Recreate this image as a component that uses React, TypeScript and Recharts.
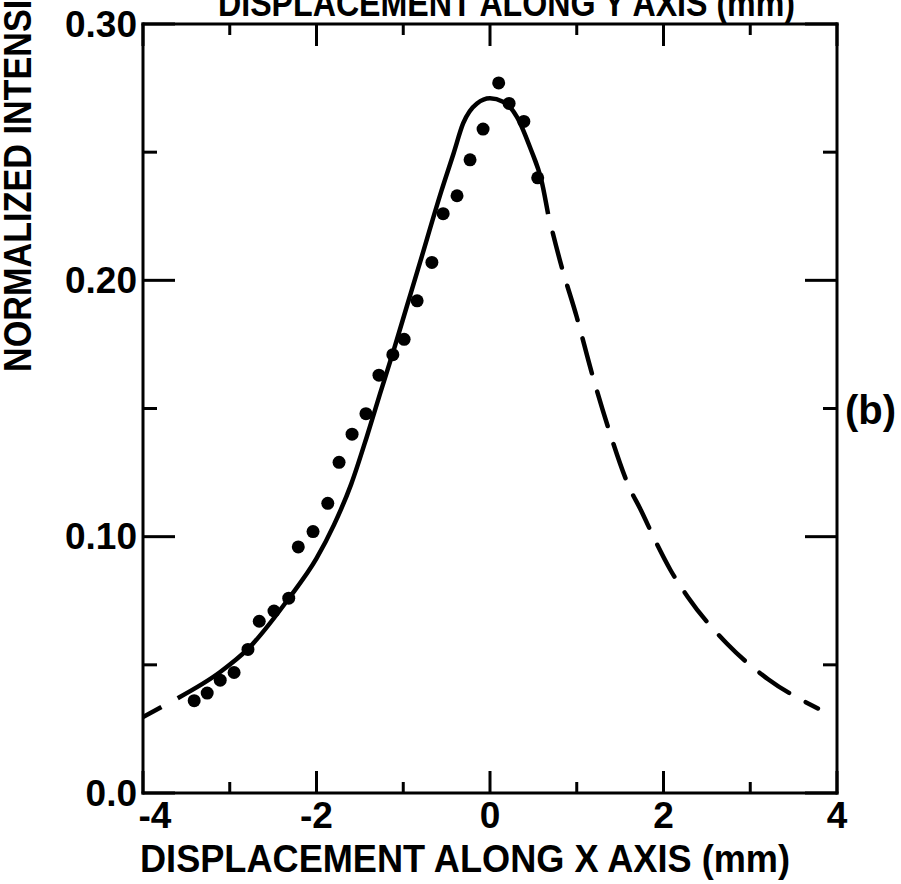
import React from 'react';
import { ComposedChart, XAxis, YAxis, Line, Scatter } from 'recharts';

const FONT = '"Liberation Sans", Arial, sans-serif';

// axis ticks
const xTicks = [-4, -3, -2, -1, 0, 1, 2, 3, 4];
const xTickLabels = ['-4', '', '-2', '', '0', '', '2', '', '4'];
const yTicks = [0, 0.05, 0.1, 0.15, 0.2, 0.25, 0.3];
const yTickLabels = ['0.0', '', '0.10', '', '0.20', '', '0.30'];

// measured points (dots)
const measuredX = [
  -3.41, -3.26, -3.11, -2.95, -2.79, -2.66, -2.49, -2.32, -2.21, -2.04, -1.87, -1.74, -1.59, -1.43,
  -1.28, -1.12, -0.99, -0.84, -0.67, -0.54, -0.38, -0.23, -0.08, 0.1, 0.22, 0.39, 0.55,
];
const measuredY = [
  0.036, 0.039, 0.044, 0.047, 0.056, 0.067, 0.071, 0.076, 0.096, 0.102, 0.113, 0.129, 0.14, 0.148,
  0.163, 0.171, 0.177, 0.192, 0.207, 0.226, 0.233, 0.247, 0.259, 0.277, 0.269, 0.262, 0.24,
];

// fitted curve, solid part
const solidX = [
  -3.6, -3.11, -2.79, -2.32, -2.0, -1.8, -1.6, -1.42, -1.27, -1.11, -0.96, -0.81, -0.56, -0.42,
  -0.31, -0.15, 0, 0.15, 0.31, 0.46, 0.6, 0.67,
];
const solidY = [
  0.037, 0.0472, 0.0562, 0.0759, 0.0915, 0.1045, 0.1205, 0.139, 0.1555, 0.1728, 0.1897, 0.2066,
  0.2349, 0.2495, 0.2612, 0.269, 0.271, 0.2697, 0.2638, 0.252, 0.238, 0.2258,
];

// fitted curve, dashed parts
const dashLeftX = [-4, -3.6];
const dashLeftY = [0.0296, 0.037];
const dashRightX = [0.67, 0.82, 1.0, 1.17, 1.36, 1.61, 1.73, 1.92, 2.08, 2.28, 2.73, 3.21, 3.78];
const dashRightY = [
  0.2258, 0.206, 0.1857, 0.1643, 0.1428, 0.1189, 0.111, 0.0974, 0.087, 0.0765, 0.0583, 0.0443, 0.033,
];

const zip = (xs: number[], ys: number[]) => xs.map((x, i) => ({ x, y: ys[i] }));
const measured = zip(measuredX, measuredY);
const solid = zip(solidX, solidY);
const dashLeft = zip(dashLeftX, dashLeftY);
const dashRight = zip(dashRightX, dashRightY);

const tickText = { fontFamily: FONT, fontWeight: 700, fontSize: 37, fill: '#000' };

function BottomTick(props: any) {
  const { x, y, payload } = props;
  const i = xTicks.indexOf(payload.value);
  const label = xTickLabels[i];
  const major = payload.value % 2 === 0;
  return (
    <g>
      <line x1={x} y1={y} x2={x} y2={y - (major ? 22 : 11)} stroke="#000" strokeWidth={3} />
      {label !== '' && (
        <text x={x + (i === 0 ? 12 : 0)} y={y + 22} textAnchor="middle" dominantBaseline="central" {...tickText}>
          {label}
        </text>
      )}
    </g>
  );
}

function TopTick(props: any) {
  const { x, y, payload } = props;
  const major = payload.value % 2 === 0;
  return <line x1={x} y1={y} x2={x} y2={y + (major ? 22 : 11)} stroke="#000" strokeWidth={3} />;
}

function LeftTick(props: any) {
  const { x, y, payload } = props;
  const i = yTicks.indexOf(payload.value);
  const label = yTickLabels[i];
  const major = i % 2 === 0;
  return (
    <g>
      <line x1={x} y1={y} x2={x + (major ? 32 : 14)} y2={y} stroke="#000" strokeWidth={3} />
      {label !== '' && (
        <text x={x - 6} y={y} textAnchor="end" dominantBaseline="central" {...tickText}>
          {label}
        </text>
      )}
    </g>
  );
}

function RightTick(props: any) {
  const { x, y, payload } = props;
  const i = yTicks.indexOf(payload.value);
  const major = i % 2 === 0;
  return <line x1={x} y1={y} x2={x - (major ? 32 : 14)} y2={y} stroke="#000" strokeWidth={3} />;
}

const frame = { stroke: '#000', strokeWidth: 3, strokeLinecap: 'square' as const };

export default function App() {
  return (
    <div style={{ position: 'absolute', left: 0, top: 0, width: 901, height: 884, background: '#fff' }}>
      <ComposedChart width={901} height={884} margin={{ top: 23, right: 63, bottom: 0, left: 0 }}>
        <XAxis
          dataKey="x"
          type="number"
          domain={[-4, 4]}
          ticks={xTicks}
          interval={0}
          allowDataOverflow
          height={91}
          tickSize={0}
          tickMargin={0}
          tickLine={false}
          axisLine={frame}
          tick={BottomTick}
        />
        <XAxis
          xAxisId="t"
          orientation="top"
          dataKey="x"
          type="number"
          domain={[-4, 4]}
          ticks={xTicks}
          interval={0}
          allowDataOverflow
          height={1}
          tickSize={0}
          tickMargin={0}
          tickLine={false}
          axisLine={frame}
          tick={TopTick}
        />
        <YAxis
          dataKey="y"
          type="number"
          domain={[0, 0.3]}
          ticks={yTicks}
          interval={0}
          allowDataOverflow
          width={143}
          tickSize={0}
          tickMargin={0}
          tickLine={false}
          axisLine={frame}
          tick={LeftTick}
        />
        <YAxis
          yAxisId="r"
          orientation="right"
          dataKey="y"
          type="number"
          domain={[0, 0.3]}
          ticks={yTicks}
          interval={0}
          allowDataOverflow
          width={1}
          tickSize={0}
          tickMargin={0}
          tickLine={false}
          axisLine={frame}
          tick={RightTick}
        />
        <Line
          data={dashLeft}
          dataKey="y"
          type="monotone"
          stroke="#000"
          strokeWidth={4.5}
          strokeDasharray="21 100"
          dot={false}
          activeDot={false}
          isAnimationActive={false}
        />
        <Line
          data={solid}
          dataKey="y"
          type="monotone"
          stroke="#000"
          strokeWidth={4.5}
          dot={false}
          activeDot={false}
          isAnimationActive={false}
        />
        <Line
          data={dashRight}
          dataKey="y"
          type="monotone"
          stroke="#000"
          strokeWidth={4.5}
          strokeDasharray="36 19"
          strokeDashoffset={36}
          strokeLinecap="round"
          dot={false}
          activeDot={false}
          isAnimationActive={false}
        />
        <Scatter
          data={measured}
          dataKey="y"
          fill="#000"
          isAnimationActive={false}
          shape={(p: any) => <circle cx={p.cx} cy={p.cy} r={6.5} fill="#000" />}
        />
      </ComposedChart>
      <svg
        width={901}
        height={884}
        style={{ position: 'absolute', left: 0, top: 0, pointerEvents: 'none' }}
      >
        <text
          x={218}
          y={16}
          textLength={577}
          lengthAdjust="spacingAndGlyphs"
          fontFamily={FONT}
          fontWeight={700}
          fontSize={36}
          fill="#000"
        >
          DISPLACEMENT ALONG Y AXIS (mm)
        </text>
        <text
          x={140}
          y={872}
          textLength={650}
          lengthAdjust="spacingAndGlyphs"
          fontFamily={FONT}
          fontWeight={700}
          fontSize={39}
          fill="#000"
        >
          DISPLACEMENT ALONG X AXIS (mm)
        </text>
        <text
          transform="translate(18, 372) rotate(-90)"
          x={0}
          y={0}
          textLength={416}
          lengthAdjust="spacingAndGlyphs"
          dominantBaseline="central"
          fontFamily={FONT}
          fontWeight={700}
          fontSize={38}
          fill="#000"
        >
          NORMALIZED INTENSITY
        </text>
        <text x={845} y={424} fontFamily={FONT} fontWeight={700} fontSize={40} fill="#000">
          (b)
        </text>
      </svg>
    </div>
  );
}
